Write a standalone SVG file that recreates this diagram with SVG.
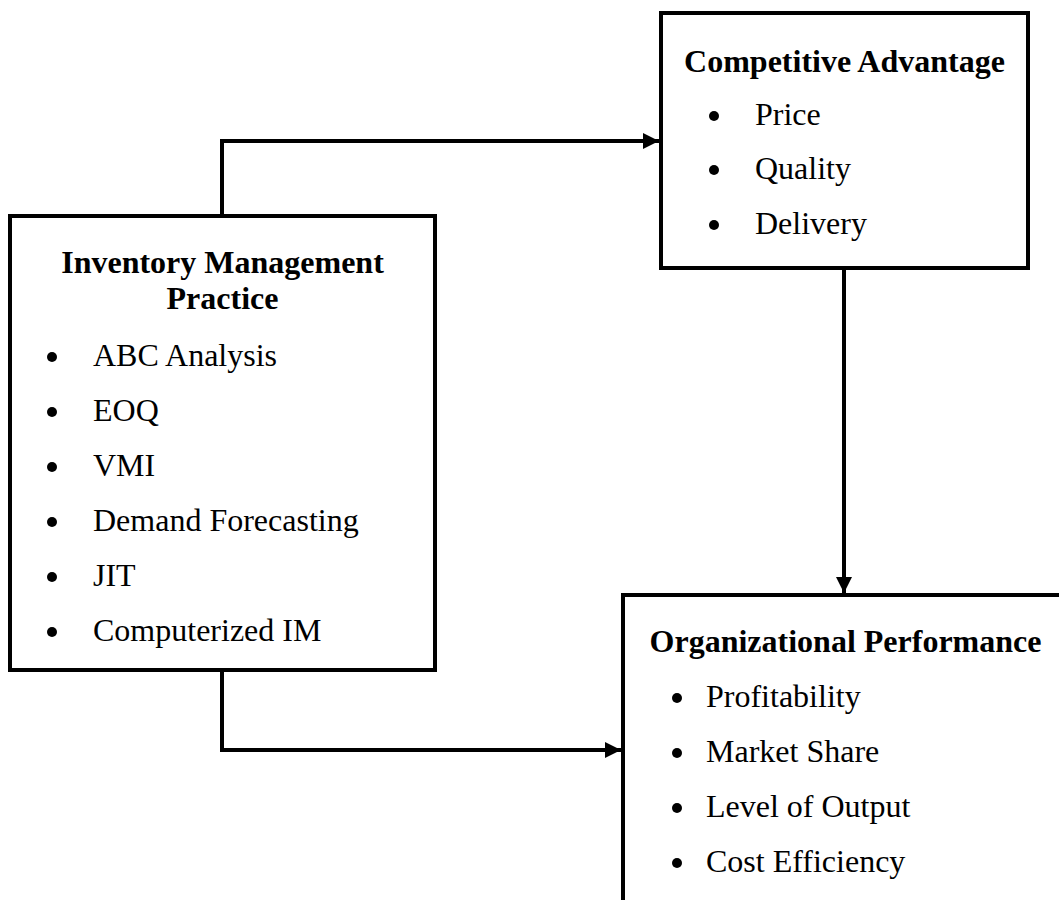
<svg xmlns="http://www.w3.org/2000/svg" width="1059" height="900" viewBox="0 0 1059 900">
  <style>
    .box { fill: #ffffff; stroke: #000000; stroke-width: 4; }
    .wire { fill: none; stroke: #000000; stroke-width: 4; }
    .title { font-family: "Liberation Serif", "Times New Roman", serif; font-size: 32px; font-weight: bold; fill: #000000; text-anchor: middle; }
    .item { font-family: "Liberation Serif", "Times New Roman", serif; font-size: 32px; fill: #000000; }
    .dot { fill: #000000; }
  </style>
  <defs>
    <marker id="arrow" viewBox="0 0 10 10" refX="10" refY="5" markerWidth="4" markerHeight="4" orient="auto" markerUnits="strokeWidth">
      <path d="M0,0 L10,5 L0,10 Z" fill="#000000"/>
    </marker>
  </defs>
  <rect width="1059" height="900" fill="#ffffff"/>

  <!-- connectors -->
  <g id="connectors">
    <path class="wire" d="M222,216 L222,141 L659,141" marker-end="url(#arrow)"/>
    <path class="wire" d="M222,670 L222,750 L621,750" marker-end="url(#arrow)"/>
    <path class="wire" d="M844,268 L844,593" marker-end="url(#arrow)"/>
  </g>

  <!-- Competitive Advantage -->
  <g id="competitive-advantage">
    <rect class="box" x="661" y="13" width="367" height="255"/>
    <text class="title" x="844.5" y="72">Competitive Advantage</text>
    <circle class="dot" cx="714" cy="116" r="5"/>
    <text class="item" x="755" y="125">Price</text>
    <circle class="dot" cx="714" cy="170" r="5"/>
    <text class="item" x="755" y="179">Quality</text>
    <circle class="dot" cx="714" cy="225" r="5"/>
    <text class="item" x="755" y="234">Delivery</text>
  </g>

  <!-- Inventory Management Practice -->
  <g id="inventory-management">
    <rect class="box" x="10" y="216" width="425" height="454"/>
    <text class="title" x="222.5" y="273">Inventory Management</text>
    <text class="title" x="222.5" y="309">Practice</text>
    <circle class="dot" cx="52" cy="357" r="5"/>
    <text class="item" x="93" y="366">ABC Analysis</text>
    <circle class="dot" cx="52" cy="412" r="5"/>
    <text class="item" x="93" y="421">EOQ</text>
    <circle class="dot" cx="52" cy="467" r="5"/>
    <text class="item" x="93" y="476">VMI</text>
    <circle class="dot" cx="52" cy="522" r="5"/>
    <text class="item" x="93" y="531">Demand Forecasting</text>
    <circle class="dot" cx="52" cy="577" r="5"/>
    <text class="item" x="93" y="586">JIT</text>
    <circle class="dot" cx="52" cy="632" r="5"/>
    <text class="item" x="93" y="641">Computerized IM</text>
  </g>

  <!-- Organizational Performance -->
  <g id="organizational-performance">
    <rect class="box" x="623" y="595" width="500" height="400"/>
    <text class="title" x="845.5" y="652">Organizational Performance</text>
    <circle class="dot" cx="677" cy="698" r="5"/>
    <text class="item" x="706" y="707">Profitability</text>
    <circle class="dot" cx="677" cy="753" r="5"/>
    <text class="item" x="706" y="762">Market Share</text>
    <circle class="dot" cx="677" cy="808" r="5"/>
    <text class="item" x="706" y="817">Level of Output</text>
    <circle class="dot" cx="677" cy="863" r="5"/>
    <text class="item" x="706" y="872">Cost Efficiency</text>
  </g>
</svg>
